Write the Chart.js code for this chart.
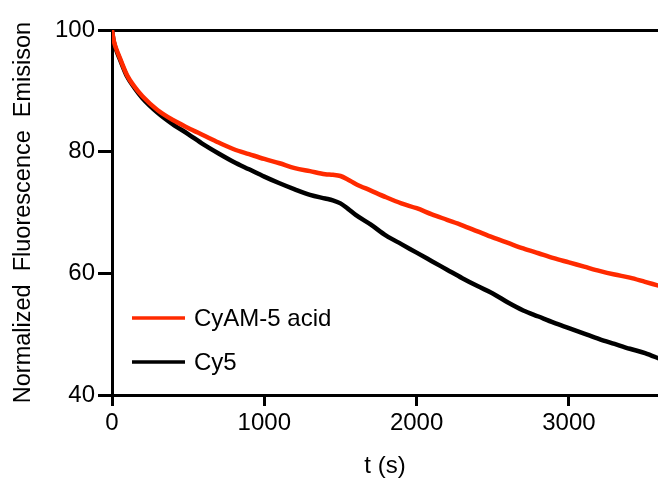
<!DOCTYPE html>
<html lang="en">
<head>
<meta charset="UTF-8">
<title>Fluorescence decay</title>
<script src="https://cdn.jsdelivr.net/npm/chart.js"></script>
<style>
    body {
        margin: 0;
        padding: 0;
        background: #ffffff;
    }
    .chart-box {
        position: relative;
        width: 658px;
        height: 481px;
    }
</style>
</head>
<body>
<div class="chart-box">
    <canvas id="decayChart"></canvas>
</div>
<script>
// time points (s)
const times = [0, 10, 25, 50, 100, 150, 200, 300, 400, 500, 600, 700, 800, 900, 1000,
    1100, 1200, 1300, 1400, 1450, 1500, 1550, 1600, 1700, 1800, 1900, 2000, 2100, 2200,
    2300, 2400, 2500, 2600, 2700, 2800, 2900, 3000, 3100, 3200, 3300, 3400, 3500, 3600];

// CyAM-5 acid (red)
const cyamValues = [100, 98.4, 97.1, 95.5, 92.5, 90.6, 89.1, 86.8, 85.2, 83.9, 82.7, 81.5, 80.4, 79.6, 78.8,
    78.1, 77.3, 76.8, 76.3, 76.2, 76.0, 75.4, 74.7, 73.6, 72.5, 71.5, 70.7, 69.7, 68.8,
    67.9, 66.9, 65.9, 65.0, 64.1, 63.3, 62.5, 61.8, 61.1, 60.4, 59.8, 59.3, 58.6, 57.9];

// Cy5 (black)
const cy5Values = [100, 98.3, 96.9, 95.3, 92.3, 90.4, 88.8, 86.4, 84.5, 82.9, 81.2, 79.7, 78.3, 77.1, 75.9,
    74.8, 73.8, 72.9, 72.3, 72.0, 71.5, 70.6, 69.6, 68.0, 66.2, 64.8, 63.4, 62.0, 60.6,
    59.2, 57.9, 56.7, 55.2, 53.9, 52.9, 51.9, 51.0, 50.1, 49.2, 48.4, 47.6, 46.9, 45.9];

const seriesNames = ['CyAM-5 acid', 'Cy5'];
const yTicks = [40, 60, 80, 100];
const xTicks = [0, 1000, 2000, 3000];

const FONT = "'Liberation Sans', Arial, sans-serif";
const RED = '#ff2a00';

function toPoints(vals) {
    return times.map((t, i) => ({ x: t, y: vals[i] }));
}

// legend drawn inside the plot (bottom left)
const innerLegend = {
    id: 'innerLegend',
    afterDraw(chart) {
        const ctx = chart.ctx;
        const rows = [318, 362];
        ctx.save();
        chart.data.datasets.forEach((ds, i) => {
            const y = rows[i];
            ctx.strokeStyle = ds.borderColor;
            ctx.lineWidth = 3.5;
            ctx.beginPath();
            ctx.moveTo(132, y);
            ctx.lineTo(185, y);
            ctx.stroke();
            ctx.fillStyle = '#000';
            ctx.font = '24px ' + FONT;
            ctx.textBaseline = 'middle';
            ctx.fillText(ds.label, 194, y + 1);
        });
        ctx.restore();
    }
};

const ctx = document.getElementById('decayChart').getContext('2d');
const decayChart = new Chart(ctx, {
    type: 'line',
    data: {
        datasets: [{
            label: seriesNames[0],
            data: toPoints(cyamValues),
            borderColor: RED,
            borderWidth: 4.5,
            pointRadius: 0,
            cubicInterpolationMode: 'monotone',
            fill: false
        }, {
            label: seriesNames[1],
            data: toPoints(cy5Values),
            borderColor: '#000000',
            borderWidth: 4.5,
            pointRadius: 0,
            cubicInterpolationMode: 'monotone',
            fill: false
        }]
    },
    options: {
        responsive: true,
        maintainAspectRatio: false,
        animation: false,
        layout: {
            padding: { top: 30, right: 0, bottom: 0, left: 0 }
        },
        plugins: {
            legend: { display: false },
            tooltip: { enabled: false }
        },
        scales: {
            x: {
                type: 'linear',
                position: 'bottom',
                min: 0,
                max: 3585,
                afterBuildTicks: (scale) => {
                    scale.ticks = xTicks.map(v => ({ value: v }));
                },
                afterFit: (scale) => { scale.height = 86; },
                ticks: {
                    color: '#000',
                    font: { size: 24, family: FONT },
                    padding: 3,
                    maxRotation: 0,
                    callback: (v) => String(v)
                },
                grid: {
                    drawOnChartArea: false,
                    drawTicks: true,
                    tickLength: 11,
                    color: '#000',
                    lineWidth: 3
                },
                border: { display: true, color: '#000', width: 3 },
                title: {
                    display: true,
                    text: 't (s)',
                    color: '#000',
                    font: { size: 24, family: FONT },
                    padding: { top: 8, bottom: 0 }
                }
            },
            xTop: {
                type: 'linear',
                position: 'top',
                min: 0,
                max: 3585,
                afterFit: (scale) => { scale.height = 0; },
                ticks: { display: false },
                grid: { display: false, drawTicks: false },
                border: { display: true, color: '#000', width: 3 }
            },
            y: {
                min: 40,
                max: 100,
                afterBuildTicks: (scale) => {
                    scale.ticks = yTicks.map(v => ({ value: v }));
                },
                afterFit: (scale) => { scale.width = 112; },
                ticks: {
                    color: '#000',
                    font: { size: 24, family: FONT },
                    padding: 3,
                    callback: (v) => String(v)
                },
                grid: {
                    drawOnChartArea: false,
                    drawTicks: true,
                    tickLength: 14,
                    color: '#000',
                    lineWidth: 3
                },
                border: { display: true, color: '#000', width: 3 },
                title: {
                    display: true,
                    text: 'Normalized  Fluorescence  Emisison',
                    color: '#000',
                    font: { size: 23.5, family: FONT },
                    padding: { top: 9, bottom: 0 }
                }
            }
        }
    },
    plugins: [innerLegend]
});
</script>
</body>
</html>
